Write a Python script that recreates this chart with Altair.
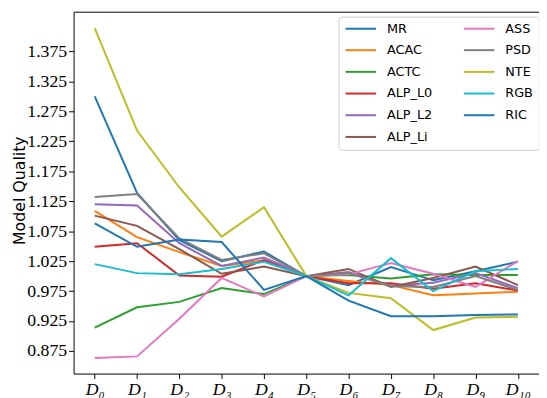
import altair as alt
import pandas as pd

XLABELS = ["D₀", "D₁", "D₂", "D₃", "D₄", "D₅", "D₆", "D₇", "D₈", "D₉", "D₁₀"]

SERIES = ["MR", "ACAC", "ACTC", "ALP_L0", "ALP_L2", "ALP_Li", "ASS", "PSD", "NTE", "RGB", "RIC"]
COLORS = ["#1f77b4", "#ff7f0e", "#2ca02c", "#d62728", "#9467bd", "#8c564b",
          "#e377c2", "#7f7f7f", "#bcbd22", "#17becf", "#1f77b4"]

MR = [1.300, 1.139, 1.060, 1.025, 1.041, 1.000, 0.985, 1.015, 0.993, 1.008, 1.024]
ACAC = [1.109, 1.065, 1.040, 1.017, 1.026, 1.000, 0.992, 0.985, 0.968, 0.971, 0.974]
ACTC = [0.914, 0.948, 0.957, 0.980, 0.970, 1.000, 1.002, 0.996, 1.003, 1.002, 1.002]
ALP_L0 = [1.049, 1.055, 1.001, 0.999, 1.027, 1.000, 0.988, 0.988, 0.979, 0.988, 0.976]
ALP_L2 = [1.120, 1.118, 1.055, 1.017, 1.031, 1.000, 1.007, 0.984, 0.989, 1.005, 0.980]
ALP_Li = [1.101, 1.084, 1.045, 1.004, 1.016, 1.000, 1.012, 0.982, 0.997, 1.016, 0.985]
ASS = [0.8635, 0.866, 0.929, 0.997, 0.966, 1.000, 1.003, 1.022, 1.004, 0.982, 1.025]
PSD = [1.132, 1.137, 1.063, 1.027, 1.038, 1.000, 1.005, 0.983, 0.982, 1.000, 0.977]
NTE = [1.414, 1.243, 1.148, 1.066, 1.115, 1.000, 0.972, 0.963, 0.910, 0.931, 0.932]
RGB = [1.020, 1.005, 1.003, 1.012, 1.024, 1.000, 0.968, 1.030, 0.975, 1.008, 1.012]
RIC = [1.088, 1.049, 1.061, 1.057, 0.977, 1.000, 0.959, 0.933, 0.933, 0.935, 0.936]

YTICKS = [0.875, 0.925, 0.975, 1.025, 1.075, 1.125, 1.175, 1.225, 1.275, 1.325, 1.375]

VALUES = {"MR": MR, "ACAC": ACAC, "ACTC": ACTC, "ALP_L0": ALP_L0, "ALP_L2": ALP_L2,
          "ALP_Li": ALP_Li, "ASS": ASS, "PSD": PSD, "NTE": NTE, "RGB": RGB, "RIC": RIC}

rows = []
for s in SERIES:
    for i, (lab, v) in enumerate(zip(XLABELS, VALUES[s])):
        rows.append({"series": s, "d": lab, "i": i, "v": v})
df = pd.DataFrame(rows)

SERIF = "Liberation Serif, Times New Roman, Times, DejaVu Serif, serif"

W, H = 472, 367

xscale = alt.Scale(type="point", padding=0.5)
yscale = alt.Scale(domain=[0.8373, 1.4414], nice=False, zero=False)

yaxis = alt.Axis(values=YTICKS, format=".3f", labelFont=SERIF,
                 labelFontSize=18, labelColor="black", tickSize=5,
                 tickColor="black", labelPadding=2, labelOverlap=False,
                 labelFlush=False, domainColor="black",
                 domainWidth=1, grid=False, title="Model Quality",
                 titleFont="DejaVu Sans", titleFontSize=16,
                 titleFontWeight="normal", titleColor="black",
                 titleX=-50, titleY=181, titleAngle=270,
                 titleAlign="center", titleBaseline="alphabetic")

# legend line symbol: 31px long line starting near the entry's left edge (size 100 -> scale 5)
LEG_SYMBOL = "M-1,0H5.2"

lines = alt.Chart(df).mark_line(strokeWidth=2).encode(
    x=alt.X("d:O", sort=XLABELS, scale=xscale,
            axis=alt.Axis(title=None, labelAngle=0, labelFont=SERIF,
                          labelFontStyle="italic", labelFontSize=18, labelColor="black",
                          tickSize=5, tickColor="black", labelPadding=2,
                          labelOverlap=False,
                          domainColor="black", domainWidth=1, grid=False)),
    y=alt.Y("v:Q", scale=yscale, axis=yaxis),
    color=alt.Color("series:N",
                    scale=alt.Scale(domain=SERIES, range=COLORS),
                    legend=alt.Legend(orient="none", legendX=268.8, legendY=5,
                                      columns=2, title=None, symbolType=LEG_SYMBOL,
                                      symbolSize=100, symbolStrokeWidth=2,
                                      labelFont="DejaVu Sans", labelFontSize=13,
                                      labelColor="black", labelOffset=30.5,
                                      columnPadding=27, rowPadding=8, padding=5.5,
                                      strokeColor="#cccccc", fillColor="rgba(255,255,255,0.8)",
                                      cornerRadius=3)),
    order=alt.Order("i:Q"),
)

top = alt.Chart(df).mark_point(opacity=0, size=1).encode(
    x=alt.X("d:O", sort=XLABELS, scale=xscale,
            axis=alt.Axis(orient="top", title=None, labels=False, ticks=False,
                          domainColor="black", domainWidth=1, grid=False)),
    y=alt.Y("v:Q", scale=yscale, axis=yaxis),
)

chart = alt.layer(lines, top).resolve_axis(x="independent").properties(
    width=W, height=H,
    autosize=alt.AutoSizeParams(type="none"),
    padding={"left": 66.5, "top": 1, "right": 0, "bottom": 22},
).configure_view(stroke=None)

chart.save("out.html", embed_options={"renderer": "svg", "actions": False})
